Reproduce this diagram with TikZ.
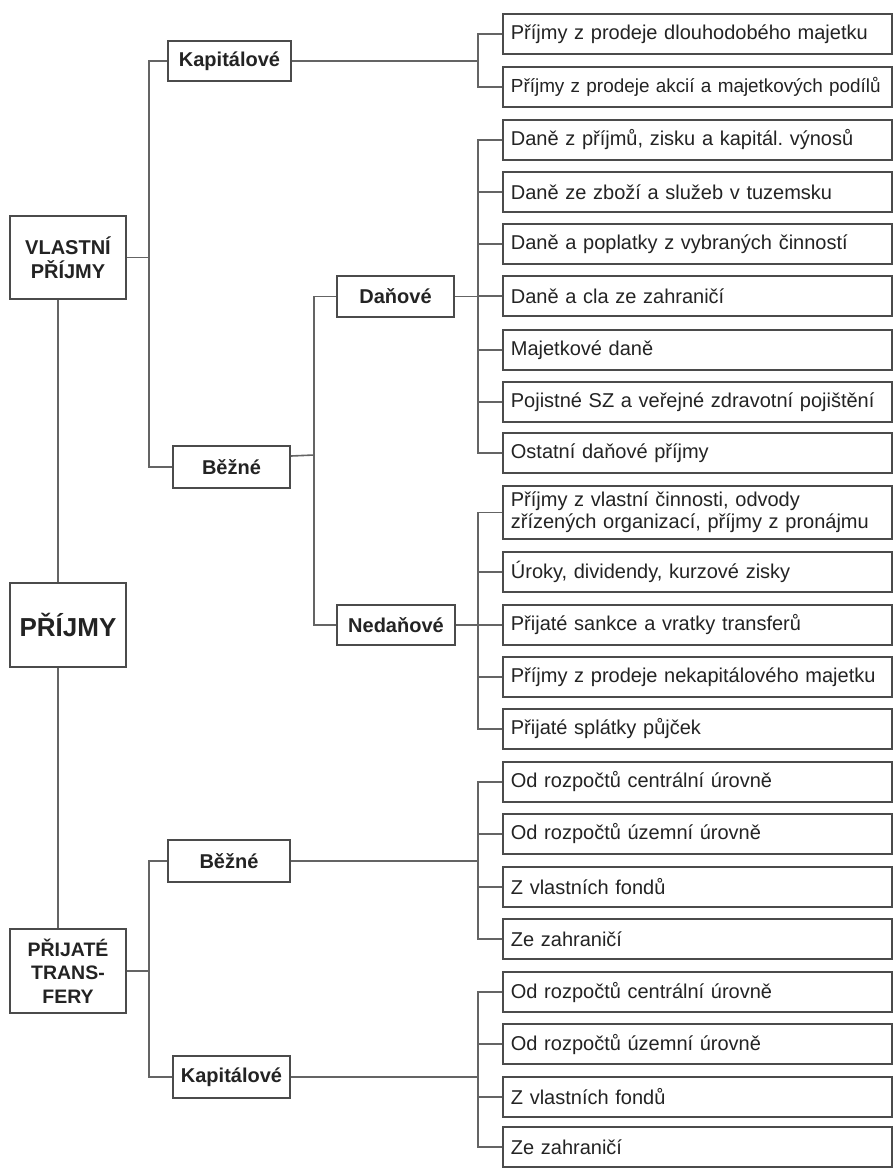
\documentclass[tikz,border=0pt]{standalone}
\usepackage{fontspec}
\setmainfont{Liberation Sans}
\frenchspacing
\definecolor{txt}{RGB}{35,35,35}
\definecolor{boxc}{RGB}{75,75,75}
\definecolor{linec}{RGB}{100,100,100}
\begin{document}
\begin{tikzpicture}[x=1pt,y=-1pt,
  leaf/.style={draw=boxc, line width=1.8pt, fill=white, anchor=west,
    text width=373pt, inner xsep=8pt, inner ysep=0pt, minimum height=40pt,
    align=left, text=txt, font=\fontsize{20}{22}\selectfont},
  mid/.style={draw=boxc, line width=1.8pt, fill=white, inner sep=0pt,
    align=center, text=txt, font=\fontsize{20}{24}\selectfont\bfseries},
  conn/.style={draw=linec, line width=1.6pt}]
\useasboundingbox (0,0) rectangle (894,1168);

% left column
\node[mid, minimum width=116pt, minimum height=83pt] (vp) at (68,257.5) {VLASTNÍ\\PŘÍJMY};
\node[mid, minimum width=116pt, minimum height=84pt, font=\fontsize{26}{30}\selectfont\bfseries] (pr) at (68,625) {PŘÍJMY};
\node[mid, minimum width=116pt, minimum height=84pt, font=\fontsize{19.5}{23.5}\selectfont\bfseries] (pt) at (68,971) {PŘIJATÉ\\TRANS-\\FERY};

% second column
\node[mid, minimum width=123pt, minimum height=40pt] (k1) at (229.5,61) {Kapitálové};
\node[mid, minimum width=117pt, minimum height=42pt] (b1) at (231.5,467) {Běžné};
\node[mid, minimum width=122pt, minimum height=42pt] (b2) at (229,861) {Běžné};
\node[mid, minimum width=117pt, minimum height=42pt] (k2) at (231.5,1077) {Kapitálové};

% third column
\node[mid, minimum width=117pt, minimum height=41pt] (dn) at (395.5,296.5) {Daňové};
\node[mid, minimum width=118pt, minimum height=40pt] (nd) at (396,625) {Nedaňové};

% right column
\node[leaf] (r1) at (502,34) {Příjmy z prodeje dlouhodobého majetku};
\node[leaf, font=\fontsize{18.9}{22}\selectfont] (r2) at (502,87) {\mbox{Příjmy z prodeje akcií a majetkových podílů}};
\node[leaf] (r3) at (502,140) {Daně z příjmů, zisku a kapitál. výnosů};
\node[leaf] (r4) at (502,192) {Daně ze zboží a služeb v tuzemsku};
\node[leaf] (r5) at (502,244) {Daně a poplatky z vybraných činností};
\node[leaf] (r6) at (502,296) {Daně a cla ze zahraničí};
\node[leaf] (r7) at (502,350) {Majetkové daně};
\node[leaf] (r8) at (502,402) {Pojistné SZ a veřejné zdravotní pojištění};
\node[leaf] (r9) at (502,453) {Ostatní daňové příjmy};
\node[leaf, minimum height=53pt] (r10) at (502,512.5) {Příjmy z vlastní činnosti, odvody\\zřízených organizací, příjmy z pronájmu};
\node[leaf] (r11) at (502,572) {Úroky, dividendy, kurzové zisky};
\node[leaf] (r12) at (502,625) {Přijaté sankce a vratky transferů};
\node[leaf] (r13) at (502,677) {Příjmy z prodeje nekapitálového majetku};
\node[leaf] (r14) at (502,729) {Přijaté splátky půjček};
\node[leaf] (r15) at (502,782) {Od rozpočtů centrální úrovně};
\node[leaf] (r16) at (502,834) {Od rozpočtů územní úrovně};
\node[leaf] (r17) at (502,887) {Z vlastních fondů};
\node[leaf] (r18) at (502,939) {Ze zahraničí};
\node[leaf] (r19) at (502,992) {Od rozpočtů centrální úrovně};
\node[leaf] (r20) at (502,1044) {Od rozpočtů územní úrovně};
\node[leaf] (r21) at (502,1097) {Z vlastních fondů};
\node[leaf] (r22) at (502,1147) {Ze zahraničí};

% junction coordinates
\coordinate (xa) at (149,0);
\coordinate (xb) at (314,0);
\coordinate (xr) at (478,0);
\coordinate (xm) at (58,0);

% main spine
\draw[conn] (vp.south -| xm) -- (pr.north -| xm);
\draw[conn] (pr.south -| xm) -- (pt.north -| xm);

% vlastní příjmy bracket
\draw[conn] (k1.west) -- (k1.west -| xa) -- (b1.west -| xa) -- (b1.west);
\draw[conn] (vp.east) -- (vp.east -| xa);

% přijaté transfery bracket
\draw[conn] (b2.west) -- (b2.west -| xa) -- (k2.west -| xa) -- (k2.west);
\draw[conn] (pt.east) -- (pt.east -| xa);

% běžné -> daňové / nedaňové
\coordinate (bj) at (314,455);
\draw[conn] ([yshift=11pt]b1.east) -- (bj);
\draw[conn] (dn.west) -- (dn.west -| xb) -- (nd.west -| xb) -- (nd.west);

% right brackets
\draw[conn] (r1.west) -- (r1.west -| xr) -- (r2.west -| xr) -- (r2.west);
\draw[conn] (k1.east) -- (k1.east -| xr);

\draw[conn] (r3.west) -- (r3.west -| xr) -- (r9.west -| xr) -- (r9.west);
\foreach \i in {4,...,8} \draw[conn] (r\i.west) -- (r\i.west -| xr);
\draw[conn] (dn.east) -- (dn.east -| xr);

\draw[conn] (r10.west) -- (r10.west -| xr) -- (r14.west -| xr) -- (r14.west);
\foreach \i in {11,...,13} \draw[conn] (r\i.west) -- (r\i.west -| xr);
\draw[conn] (nd.east) -- (nd.east -| xr);

\draw[conn] (r15.west) -- (r15.west -| xr) -- (r18.west -| xr) -- (r18.west);
\foreach \i in {16,17} \draw[conn] (r\i.west) -- (r\i.west -| xr);
\draw[conn] (b2.east) -- (b2.east -| xr);

\draw[conn] (r19.west) -- (r19.west -| xr) -- (r22.west -| xr) -- (r22.west);
\foreach \i in {20,21} \draw[conn] (r\i.west) -- (r\i.west -| xr);
\draw[conn] (k2.east) -- (k2.east -| xr);
\end{tikzpicture}
\end{document}
